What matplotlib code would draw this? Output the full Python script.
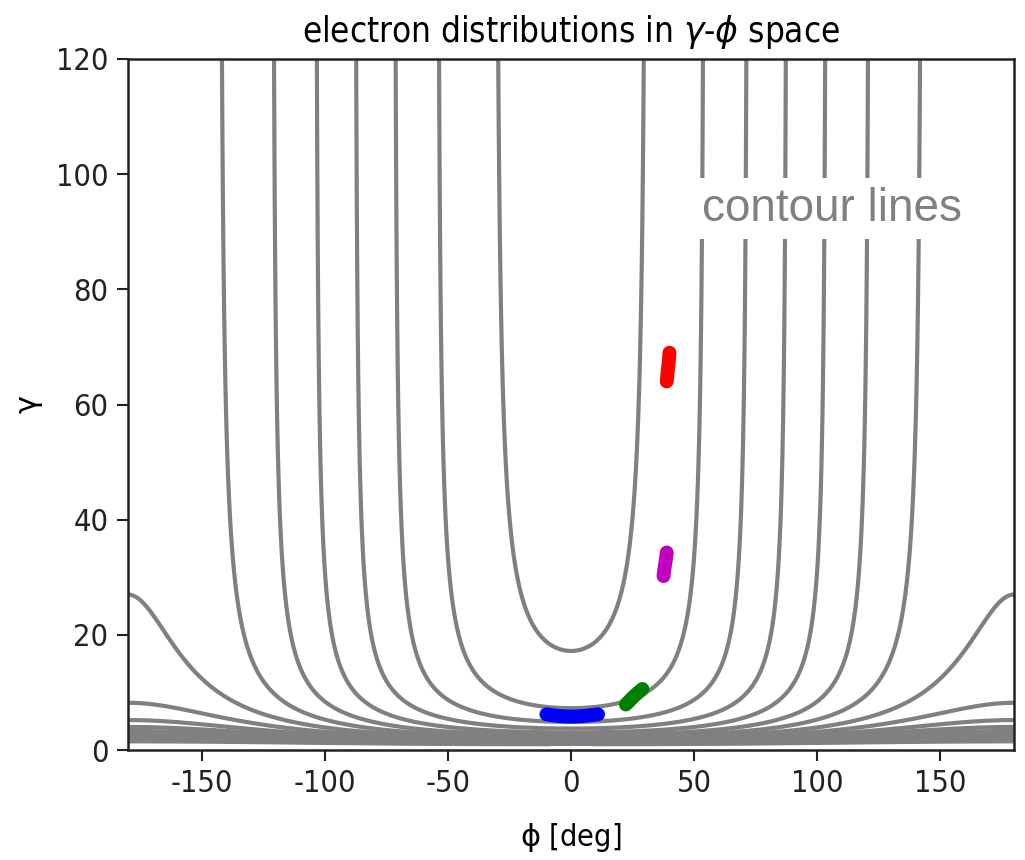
import os
import numpy as np
import matplotlib
matplotlib.use("Agg")
import matplotlib.pyplot as plt
from matplotlib import font_manager as fm

plt.rcParams["axes.unicode_minus"] = False

# ---- values ----
# phases (deg) where the open U-shaped contours become vertical (right side; mirrored left)
asymptote_phase_deg = [31.0, 54.5, 72.0, 88.0, 104.0, 121.5, 143.0]
# gamma of the innermost U contour at phi = 0
gamma_inner_bottom = 17.2
# gamma at phi = +-180 of the contours that span the whole phase range
edge_gamma = [27.0, 8.2, 5.2, 4.0, 3.3, 2.8, 2.45, 2.2, 2.0, 1.8, 1.65, 1.5]
# decay exponent of the kinetic part of the Hamiltonian (estimated from the curve shapes)
decay_exponent = 1.25

# electron bunches: (phi [deg], gamma) along each bunch
bunch_blue_phi = [-10.0, -5.0, 0.0, 5.0, 11.0]
bunch_blue_gamma = [6.2, 5.9, 5.8, 5.9, 6.2]
bunch_green_phi = [22.3, 25.5, 29.0]
bunch_green_gamma = [7.9, 9.3, 10.6]
bunch_magenta_phi = [37.6, 38.0, 38.6, 38.9]
bunch_magenta_gamma = [30.2, 31.6, 33.2, 34.3]
bunch_red_phi = [38.9, 39.3, 39.8, 40.0]
bunch_red_gamma = [64.0, 65.8, 67.8, 69.0]

title = r"electron distributions in $\gamma$-$\phi$ space"
xlabel = r"$\mathrm{\phi}$ [deg]"
ylabel = r"$\mathrm{\gamma}$"
annotation = "contour lines"

# ---- pick a condensed face (the reference text is horizontally squeezed) ----
cond_path = None
for f in fm.fontManager.ttflist:
    if os.path.basename(f.fname) == "DejaVuSansCondensed.ttf":
        cond_path = f.fname
        break
if cond_path is None:
    for f in fm.fontManager.ttflist:
        if f.name == "Liberation Sans Narrow" and f.style == "normal" and f.weight in (400, "normal"):
            cond_path = f.fname
            break
if cond_path is not None:
    cond = fm.FontProperties(fname=cond_path)
else:
    cond = fm.FontProperties(family="DejaVu Sans")

# ---- Hamiltonian model: H = k*gamma^-p - cos(phi) ----
p = decay_exponent
k = (1.0 - np.cos(np.radians(asymptote_phase_deg[0]))) * gamma_inner_bottom ** p


def kinetic(g):
    return k * np.asarray(g, dtype=float) ** (-p)


levels_open = [-np.cos(np.radians(a)) for a in asymptote_phase_deg]
levels_full = [float(kinetic(g)) + 1.0 for g in edge_gamma]
levels = np.sort(np.array(levels_open + levels_full))

phi = np.linspace(-180, 180, 1441)
gam = np.linspace(1.0, 120.0, 4000)
PHI, GAM = np.meshgrid(phi, gam)
H = kinetic(GAM) - np.cos(np.radians(PHI))

fig = plt.figure(figsize=(10.25, 8.6), dpi=100)
ax = fig.add_axes([128 / 1025, 1 - 750 / 860, (1014 - 128) / 1025, (750 - 59) / 860])

ax.contour(PHI, GAM, H, levels=levels, colors="0.5", linewidths=3.0,
           linestyles="solid")

bunch_kw = dict(lw=10, solid_capstyle="round", solid_joinstyle="round")
ax.plot(bunch_blue_phi, bunch_blue_gamma, color="#0000ff", **bunch_kw)
ax.plot(bunch_green_phi, bunch_green_gamma, color="#007f00", **bunch_kw)
ax.plot(bunch_magenta_phi, bunch_magenta_gamma, color="#bf00bf", **bunch_kw)
ax.plot(bunch_red_phi, bunch_red_gamma, color="#ff0000", **bunch_kw)

ax.set_xlim(-180, 180)
ax.set_ylim(0, 120)
ax.set_xticks([-150, -100, -50, 0, 50, 100, 150])
ax.set_yticks([0, 20, 40, 60, 80, 100, 120])
ax.tick_params(direction="out", length=8, width=1.5, color="#222222", pad=6)
for lbl in ax.get_xticklabels() + ax.get_yticklabels():
    lbl.set_fontproperties(cond)
    lbl.set_fontsize(22)
    lbl.set_color("#222222")
for s in ax.spines.values():
    s.set_linewidth(1.8)
    s.set_color("#222222")

t = ax.set_title(title, pad=12, fontproperties=cond)
t.set_fontsize(25)
xl = ax.set_xlabel(xlabel, labelpad=16, fontproperties=cond)
xl.set_fontsize(22)
yl = ax.set_ylabel(ylabel, labelpad=8, fontproperties=cond)
yl.set_fontsize(22)

ax.text(106, 94.0, annotation, ha="center", va="center", fontsize=33,
        family="Liberation Sans", color="#808080",
        bbox=dict(facecolor="white", edgecolor="none", pad=6))

fig.savefig("out.png", dpi=100)
